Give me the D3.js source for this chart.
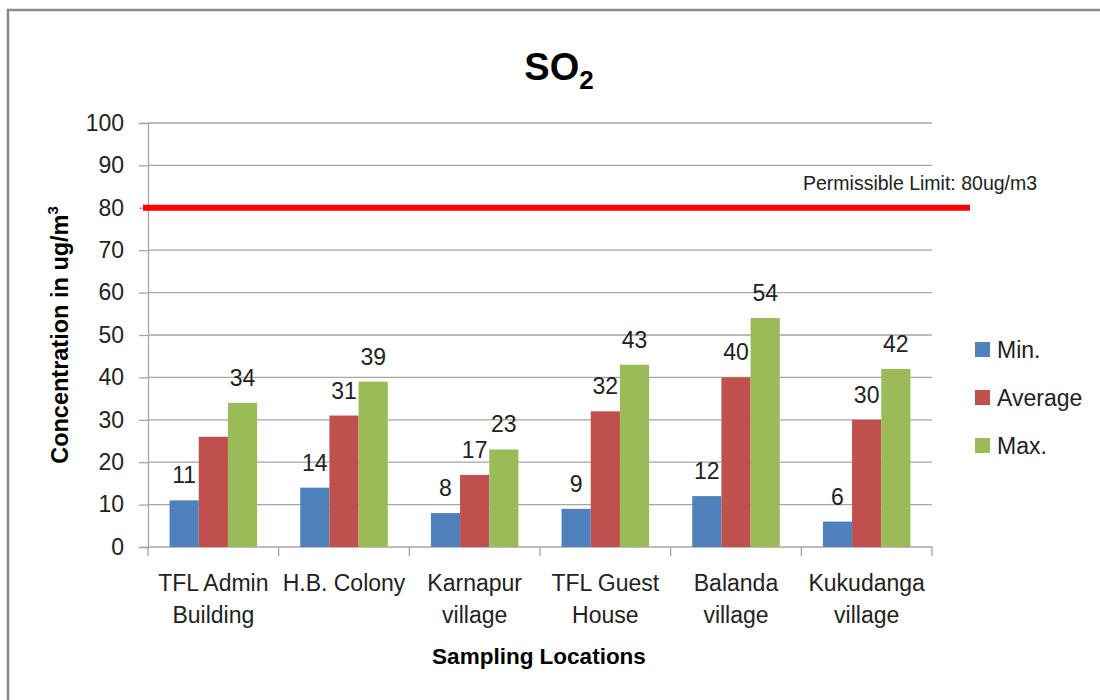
<!DOCTYPE html>
<html>
<head>
<meta charset="utf-8">
<script src="https://cdn.jsdelivr.net/npm/d3@7"></script>
<style>
  html, body { margin: 0; padding: 0; background: #fff; }
  svg { display: block; font-family: "Liberation Sans", Arial, sans-serif; }
</style>
</head>
<body>
<svg id="chart" width="1100" height="700"></svg>
<script>
// ---- data ----
const categories = [
  ["TFL Admin", "Building"],
  ["H.B. Colony"],
  ["Karnapur", "village"],
  ["TFL Guest", "House"],
  ["Balanda", "village"],
  ["Kukudanga", "village"]
];
const seriesNames = ["Min.", "Average", "Max."];
const minValues = [11, 14, 8, 9, 12, 6];
const avgValues = [26, 31, 17, 32, 40, 30];
const maxValues = [34, 39, 23, 43, 54, 42];
// data labels as shown in the reference (the 26 has no label)
const minLabels = [11, 14, 8, 9, 12, 6];
const avgLabels = [null, 31, 17, 32, 40, 30];
const maxLabels = [34, 39, 23, 43, 54, 42];
const yTicks = [0, 10, 20, 30, 40, 50, 60, 70, 80, 90, 100];
const limitValue = 80;
const limitLabel = "Permissible Limit: 80ug/m3";

(function () {
const colors = ["#4f81bd", "#c0504d", "#9bbb59"];

const svg = d3.select("#chart");
const W = 1100, H = 700;

// outer frame
svg.append("rect").attr("x", 8).attr("y", 10).attr("width", W).attr("height", H)
  .attr("fill", "#fff").attr("stroke", "#8a8a8a").attr("stroke-width", 2.5);

const pLeft = 148, pRight = 932, pTop = 123, pBottom = 547;
const catKeys = categories.map(c => c.join(" "));

const x0 = d3.scaleBand().domain(catKeys).range([pLeft, pRight])
  .paddingInner(0.33).paddingOuter(0.165);
const x1 = d3.scaleBand().domain(seriesNames).range([0, x0.bandwidth()]);
const y = d3.scaleLinear().domain([0, 100]).range([pBottom, pTop]);

const gridColor = "#a6a6a6";

// gridlines
svg.append("g").selectAll("line").data(yTicks.filter(t => t > 0)).join("line")
  .attr("x1", pLeft).attr("x2", pRight)
  .attr("y1", d => y(d)).attr("y2", d => y(d))
  .attr("stroke", gridColor).attr("stroke-width", 1.3);

// y axis
const yAxis = svg.append("g").attr("transform", `translate(${pLeft},0)`)
  .call(d3.axisLeft(y).tickValues(yTicks).tickSize(9).tickPadding(15));
yAxis.select(".domain").attr("stroke", gridColor).attr("stroke-width", 1.3);
yAxis.selectAll(".tick line").attr("stroke", gridColor).attr("stroke-width", 1.3);
yAxis.selectAll(".tick text").attr("font-size", 23).attr("fill", "#222")
  .attr("font-family", "Liberation Sans, Arial, sans-serif");

// x axis line and boundary ticks
svg.append("line").attr("x1", pLeft).attr("x2", pRight).attr("y1", pBottom).attr("y2", pBottom)
  .attr("stroke", gridColor).attr("stroke-width", 1.3);
const step = x0.step();
const boundaries = catKeys.map(k => x0(k) - step * x0.paddingInner() / 2)
  .concat([x0(catKeys[catKeys.length - 1]) + x0.bandwidth() + step * x0.paddingInner() / 2]);
svg.append("g").selectAll("line").data(boundaries).join("line")
  .attr("x1", d => d).attr("x2", d => d).attr("y1", pBottom).attr("y2", pBottom + 9)
  .attr("stroke", gridColor).attr("stroke-width", 1.3);

// category labels
const catG = svg.append("g");
categories.forEach((lines, i) => {
  const cx = x0(catKeys[i]) + x0.bandwidth() / 2;
  const t = catG.append("text").attr("text-anchor", "middle").attr("font-size", 23).attr("fill", "#222");
  lines.forEach((ln, j) => {
    t.append("tspan").attr("x", cx).attr("y", 591 + j * 32).text(ln);
  });
});

// bars
const valueSets = [minValues, avgValues, maxValues];
const labelSets = [minLabels, avgLabels, maxLabels];
const barsG = svg.append("g");
seriesNames.forEach((s, si) => {
  barsG.append("g").selectAll("rect").data(valueSets[si]).join("rect")
    .attr("x", (d, i) => x0(catKeys[i]) + x1(s))
    .attr("width", x1.bandwidth())
    .attr("y", d => y(d))
    .attr("height", d => y(0) - y(d))
    .attr("fill", colors[si]);
});
// data labels
seriesNames.forEach((s, si) => {
  svg.append("g").selectAll("text").data(labelSets[si].map((l, i) => ({l, i, v: valueSets[si][i]})).filter(d => d.l !== null))
    .join("text")
    .attr("x", d => x0(catKeys[d.i]) + x1(s) + x1.bandwidth() / 2)
    .attr("y", d => y(d.v) - 17)
    .attr("text-anchor", "middle").attr("font-size", 23).attr("fill", "#222")
    .text(d => d.l);
});

// permissible limit line
svg.append("line").attr("x1", pLeft - 5).attr("x2", 970)
  .attr("y1", y(limitValue)).attr("y2", y(limitValue))
  .attr("stroke", "#ff0000").attr("stroke-width", 6);
svg.append("text").attr("x", 803).attr("y", 190).attr("font-size", 19.5).attr("fill", "#222")
  .text(limitLabel);

// title
const title = svg.append("text").attr("x", 559).attr("y", 80).attr("text-anchor", "middle")
  .attr("font-size", 38).attr("font-weight", "bold").attr("fill", "#000");
title.append("tspan").text("SO");
title.append("tspan").attr("font-size", 26).attr("dy", 9).text("2");

// axis titles
svg.append("text").attr("x", 539).attr("y", 664).attr("text-anchor", "middle")
  .attr("font-size", 22.5).attr("font-weight", "bold").attr("fill", "#000")
  .text("Sampling Locations");
const yt = svg.append("text")
  .attr("transform", `translate(68,${(pTop + pBottom) / 2}) rotate(-90)`)
  .attr("text-anchor", "middle").attr("font-size", 23.5).attr("font-weight", "bold").attr("fill", "#000");
yt.append("tspan").text("Concentration in ug/m");
yt.append("tspan").attr("font-size", 15).attr("dy", -10).text("3");

// legend
const legend = svg.append("g");
seriesNames.forEach((s, i) => {
  const cy = 350 + i * 48;
  legend.append("rect").attr("x", 975).attr("y", cy - 8).attr("width", 15).attr("height", 15).attr("fill", colors[i]);
  legend.append("text").attr("x", 997).attr("y", cy + 8).attr("font-size", 23).attr("fill", "#222").text(s);
});
})();
</script>
</body>
</html>
